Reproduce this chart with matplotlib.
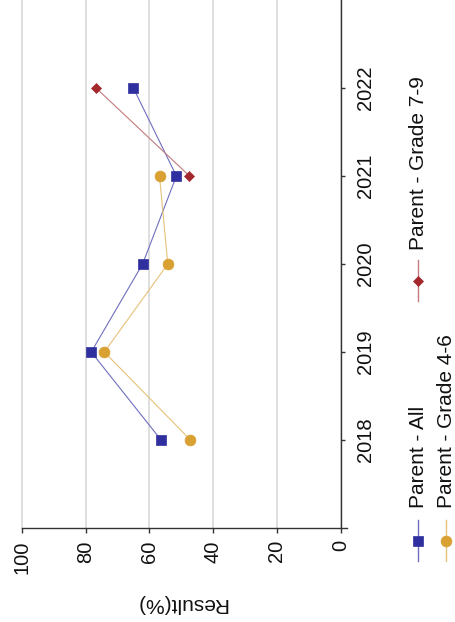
import numpy as np
import matplotlib
matplotlib.use("Agg")
import matplotlib.pyplot as plt
from matplotlib.lines import Line2D

# ---- data ----
years = [2018, 2019, 2020, 2021, 2022]
year_labels = ["2018", "2019", "2020", "2021", "2022"]
parent_all = [56.3, 78.2, 62.1, 51.5, 65.0]
parent_g46 = [47.1, 74.1, 54.2, 56.8, np.nan]
parent_g79 = [np.nan, np.nan, np.nan, 47.4, 76.7]
series_names = ["Parent - All", "Parent - Grade 4-6", "Parent - Grade 7-9"]
value_ticks = [100, 80, 60, 40, 20, 0]
axis_title = "Result(%)"

plt.rcParams['font.family'] = ['Liberation Sans', 'DejaVu Sans']

W, H = 455, 622
fig = plt.figure(figsize=(W / 100, H / 100), dpi=100)

def fx(px):
    return px / W

def fy(py):
    return 1 - py / H

ax = fig.add_axes([fx(21.7), fy(528), fx(340.7) - fx(21.7), fy(0) - fy(528)])

dark = {"all": "#2f2f9f", "g46": "#d9a032", "g79": "#a3282e"}
light = {"all": "#6f6fbf", "g46": "#e6c27a", "g79": "#c47a7e"}

styles = [
    (parent_all, "all", "s", 7.6),
    (parent_g46, "g46", "o", 7.8),
    (parent_g79, "g79", "D", 5.2),
]

for vals, key, mk, ms in styles:
    ax.plot(vals, years, color=light[key], lw=0.8, marker=mk, ms=ms,
            mfc=dark[key], mec=dark[key], mew=0.5, zorder=3)

ax.set_xlim(100, 0)
ax.set_ylim(2017, 2023)
ax.set_xticks(value_ticks)
ax.set_xticklabels([str(v) for v in value_ticks], rotation=90, fontsize=14.5,
                   color="#111111")
ax.set_yticks(years)
ax.yaxis.tick_right()
ax.set_yticklabels(year_labels, rotation=90, va="center", fontsize=14.5,
                   color="#111111")

ax.tick_params(axis="x", direction="out", length=3.8, width=1.0,
               color="#333333", pad=5)
ax.tick_params(axis="y", direction="out", length=3.0, width=1.0,
               color="#333333", pad=8)

ax.grid(axis="x", color="#dcdcdc", lw=1.3)
ax.set_axisbelow(True)
for gl in ax.get_xgridlines():
    gl.set_clip_on(False)

for s in ["top", "left"]:
    ax.spines[s].set_visible(False)
for s in ["right", "bottom"]:
    ax.spines[s].set_color("#333333")
    ax.spines[s].set_linewidth(1.0)
ax.spines["bottom"].set_bounds(-2, 100)

fig.text(fx(181), fy(603), axis_title, rotation=180, ha="center", va="center",
         fontsize=15, color="#111111")

# ---- legend (drawn rotated) ----
legend_pos = [
    (418.3, 520, 561, "all", "s", 7.6, series_names[0], 508),
    (445.7, 520, 561, "g46", "o", 7.8, series_names[1], 508),
    (418.3, 260, 301, "g79", "D", 5.2, series_names[2], 250),
]
for x, y0, y1, key, mk, ms, name, ytxt in legend_pos:
    fig.add_artist(Line2D([fx(x), fx(x)], [fy(y0), fy(y1)], color=light[key],
                          lw=1.0, transform=fig.transFigure))
    fig.add_artist(Line2D([fx(x)], [fy((y0 + y1) / 2)], marker=mk, ms=ms,
                          mfc=dark[key], mec=dark[key], mew=0.5, ls="none",
                          transform=fig.transFigure))
    fig.text(fx(x + 6), fy(ytxt), name, rotation=90, rotation_mode="anchor",
             ha="left", va="baseline", fontsize=15, color="#111111")

fig.savefig("out.png", dpi=100)
